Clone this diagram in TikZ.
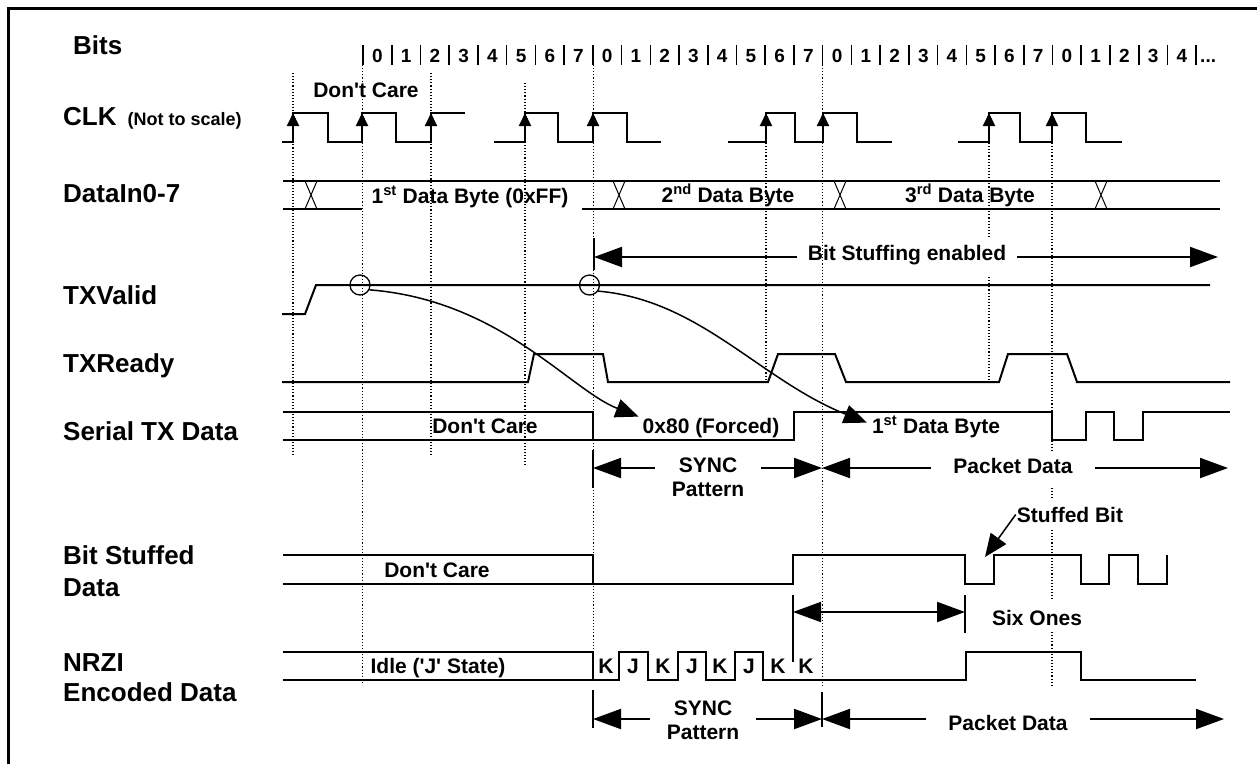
\documentclass[tikz,border=0pt]{standalone}
\usepackage{fontspec}
\setmainfont{Liberation Sans}
\usetikzlibrary{arrows.meta}
\tikzset{sig/.style={black,line width=2pt},
  guide/.style={black,line width=1.1pt,dotted},
  xing/.style={black,line width=1pt},
  bar/.style={black,line width=1.6pt},
  lbl/.style={anchor=base west,inner sep=0pt,font=\fontsize{26}{30}\selectfont\bfseries},
  txt/.style={anchor=base,inner sep=1pt,font=\fontsize{21}{24}\selectfont\bfseries},
  twoline/.style={align=center,inner sep=1pt,font=\fontsize{21}{24}\selectfont\bfseries},
  bitno/.style={anchor=base,inner sep=0pt,font=\fontsize{19}{22}\selectfont\bfseries},
  ring/.style={draw,circle,minimum size=20pt,inner sep=0pt,line width=1.3pt},
  clkup/.style={line width=2pt,-{Triangle[length=13pt,width=12pt]}},
  dimline/.style={line width=2pt,-{Triangle[length=28pt,width=20pt]}},
  dimboth/.style={line width=2pt,{Triangle[length=28pt,width=20pt]}-{Triangle[length=28pt,width=20pt]}},
  cause/.style={line width=1.5pt,-{Triangle[length=23pt,width=19pt]}}}

\begin{document}
\begin{tikzpicture}[x=1pt,y=-1pt]
\useasboundingbox (0,0) rectangle (1257,764);
\draw[line width=2.6pt] (8.7,764) -- (8.7,8.7) -- (1257,8.7);

% signal names
\node[lbl] (lBits) at (73,54) {Bits};
\node[lbl] (lClk) at (63,125) {CLK\hspace{11pt}{\fontsize{18}{20}\selectfont(Not to scale)}};
\node[lbl] (lData) at (63,202) {DataIn0-7};
\node[lbl] (lValid) at (63,304) {TXValid};
\node[lbl] (lReady) at (63,372) {TXReady};
\node[lbl] (lSer) at (63,440) {Serial TX Data};
\node[lbl] (lBSa) at (63,564) {Bit Stuffed};
\node[lbl] (lBSb) at (63,596) {Data};
\node[lbl] (lNRa) at (63,671) {NRZI};
\node[lbl] (lNRb) at (63,701) {Encoded Data};

% bit counter
\foreach \k in {0,...,29}
  \draw[bar] (363+28.73*\k,45) -- (363+28.73*\k,65);
\foreach \k [evaluate=\k as \d using {int(mod(\k,8))}] in {0,...,28}
  \node[bitno] (b\k) at (377.4+28.73*\k,62) {\d};
\node[bitno,anchor=base west] (bmore) at (1200,62) {...};

% dotted guides
\foreach \x/\a/\b in {293/73/457,362.7/65/685,431/73/457,525/83/467,593.5/65/648,
    766/143/382,822.5/65/688,989/143/237,989/277/382,1052/143/450,1052/488/498,
    1052/530/600,1052/632/687}
  \draw[guide] (\x,\a) -- (\x,\b);

% CLK
\node[txt] (dc1) at (366,97) {Don\textquotesingle t Care};
\draw[sig] (282,142) -| (293,113) -| (328,142) -| (362,113) -| (396,142) -| (431,113) -- (465,113);
\draw[sig] (494,142) -| (525,113) -| (558,142) -| (593,113) -| (627,142) -- (661,142);
\draw[sig] (728,142) -| (766,113) -| (795,142) -| (823,113) -| (857,142) -- (892,142);
\draw[sig] (958,142) -| (989,113) -| (1020,142) -| (1052,113) -| (1086,142) -- (1122,142);
\foreach \x in {293,362,431,525,593,766,823,989,1052}
  \draw[clkup] (\x,141) -- (\x,113);

% DataIn0-7
\draw[sig] (283,181) -- (1220,181);
\draw[sig] (283,209) -- (362,209);
\draw[sig] (582,209) -- (1220,209);
\foreach \x in {311,619,840,1101}
  \draw[xing] (\x-6,181) -- (\x+6,209) (\x+6,181) -- (\x-6,209);
\node[txt] (d1) at (470,203) {1\textsuperscript{st} Data Byte (0xFF)};
\node[txt] (d2) at (728,202) {2\textsuperscript{nd} Data Byte};
\node[txt] (d3) at (970,202) {3\textsuperscript{rd} Data Byte};

% bit stuffing span
\node[txt,inner xsep=11pt] (bse) at (907,260) {Bit Stuffing enabled};
\coordinate (bseL) at (594,257);
\coordinate (bseR) at (1218,257);
\draw[bar] (594,238) -- (594,270);
\draw[dimline] (bse.west |- bseL) -- (bseL);
\draw[dimline] (bse.east |- bseR) -- (bseR);

% TXValid
\draw[sig] (282,314) -- (305,314) -- (316,285) -- (1210,285);
\node[ring] (c1) at (360,285) {};
\node[ring] (c2) at (589.5,285) {};

% TXReady
\draw[sig] (282,382) -- (528,382) -- (534,354) -- (603,354) -- (608,382) -- (768,382) -- (778,354)
  -- (835,354) -- (846,382) -- (999,382) -- (1008,354) -- (1067,354) -- (1077,382) -- (1230,382);

% Serial TX Data
\draw[sig] (283,412) -- (593,412) -- (593,440);
\draw[sig] (283,440) -| (794,412) -| (1052,440) -| (1086,412) -| (1114,440) -| (1143,412) -- (1230,412);
\node[txt] (dc2) at (485,433) {Don\textquotesingle t Care};
\node[txt] (f80) at (711,433) {0x80 (Forced)};
\node[txt] (fdb) at (936,433) {1\textsuperscript{st} Data Byte};
\draw[cause] (c1.-27) .. controls (500,300) and (570,390) .. ([xshift=-3pt]f80.north west);
\draw[cause] (c2.-35) .. controls (700,300) and (760,380) .. ([shift={(-4pt,4pt)}]fdb.west);

\node[twoline,inner xsep=17pt] (sync1) at (708,477) {SYNC\\Pattern};
\coordinate (s1L) at (593,468);
\coordinate (s1R) at (822,468);
\draw[bar] (593,450) -- (593,488);
\draw[dimline] (sync1.west |- s1L) -- (s1L);
\draw[dimline] (sync1.east |- s1R) -- (s1R);
\node[txt,inner xsep=22pt] (pk1) at (1013,473) {Packet Data};
\coordinate (p1R) at (1228,468);
\draw[dimline] (pk1.west |- s1R) -- (s1R);
\draw[dimline] (pk1.east |- p1R) -- (p1R);

% Bit Stuffed Data
\draw[sig] (283,555) -- (593,555) -- (593,584);
\draw[sig] (283,584) -| (793,555) -| (965,584) -| (994,555) -| (1081,584) -| (1109,555) -| (1138,584) -| (1167,555);
\node[txt] (dc3) at (437,577) {Don\textquotesingle t Care};
\node[txt] (sb) at (1070,522) {Stuffed Bit};
\coordinate (sbTip) at (985,557);
\draw[cause] (sb.west) -- (sbTip);
\node[txt] (six) at (1037,625) {Six Ones};
\coordinate (sixL) at (793,612);
\coordinate (sixR) at (965,612);
\draw[bar] (793,595) -- (793,662);
\draw[bar] (965,595) -- (965,633);
\draw[dimboth] (sixL) -- (sixR);

% NRZI Encoded Data
\draw[sig] (283,652) -- (593,652) -- (593,680);
\draw[sig] (283,680) -| (619,652) -| (648,680) -| (678,652) -| (706,680) -| (735,652) -| (763,680)
  -| (966,652) -| (1081,680) -- (1196,680);
\node[txt] (idle) at (438,673) {Idle (\textquotesingle J\textquotesingle{} State)};
\foreach \x/\s [count=\i] in {606/K,633/J,663/K,692/J,720/K,749/J,778/K,806/K}
  \node[txt] (kj\i) at (\x,673) {\s};

\node[twoline,inner xsep=17pt] (sync2) at (703,720) {SYNC\\Pattern};
\coordinate (s2L) at (593,719);
\coordinate (s2R) at (822,719);
\draw[bar] (593,690) -- (593,728);
\draw[bar] (822,692) -- (822,727);
\draw[dimline] (sync2.west |- s2L) -- (s2L);
\draw[dimline] (sync2.east |- s2R) -- (s2R);
\node[txt,inner xsep=22pt] (pk2) at (1008,730) {Packet Data};
\coordinate (p2R) at (1224,719);
\draw[dimline] (pk2.west |- s2R) -- (s2R);
\draw[dimline] (pk2.east |- p2R) -- (p2R);
\end{tikzpicture}
\end{document}
